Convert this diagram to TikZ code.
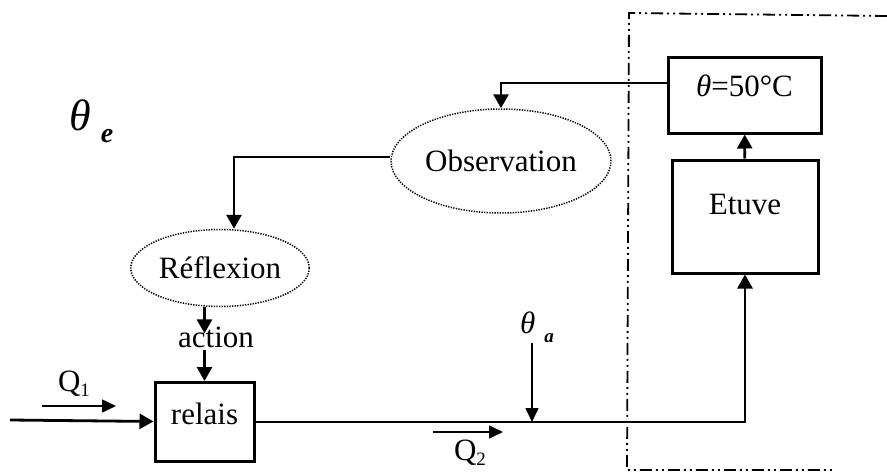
\documentclass[tikz,border=0pt]{standalone}
\usepackage{fontspec}
\setmainfont{Liberation Serif}
\usetikzlibrary{positioning,calc,arrows.meta,shapes.geometric}
\newcommand{\grand}{\fontsize{31}{35}\selectfont}
\newcommand{\indice}{\fontsize{19}{22}\selectfont}

\begin{document}
\begin{tikzpicture}[x=1pt, y=-1pt, >={Triangle[length=14pt, width=15pt]},
    every node/.style={inner sep=2pt, font=\grand},
    bloc/.style={draw, line width=3pt, text height=21pt},
    bulle/.style={ellipse, draw, line width=1.5pt, dash pattern=on 1.3pt off 1.3pt},
    fleche/.style={->, line width=2.8pt},
    fine/.style={->, line width=1.6pt, >={Triangle[length=14pt, width=13pt]}},
    cadre/.style={line width=1.8pt, dash pattern=on 12pt off 4pt on 2pt off 4pt on 2pt off 4pt}]
  \useasboundingbox (0,0) rectangle (887,474);

  % blocs et bulles
  \node[bloc, minimum width=153pt, minimum height=76pt, text depth=19pt] (consigne) at (744.5,95) {\textit{θ}=50°C};
  \node[bloc, minimum width=146pt, minimum height=113pt, text depth=25pt] (etuve) at (745,216.5) {Etuve};
  \node[bulle, minimum width=193pt, minimum height=104pt] (obs) at (501,161) {Observation};
  \node[bulle, minimum width=170pt, minimum height=77pt] (refl) at (220,268) {Réflexion};
  \node (action) at (216,337) {action};
  \node[bloc, minimum width=99pt, minimum height=79pt, text depth=17pt] (relais) at (204.5,422) {relais};

  % grandeurs
  \node[anchor=base west] (te) at (67,130) {\fontsize{44}{48}\selectfont\textit{θ}\hspace{10pt}\raisebox{-12pt}{\fontsize{28}{30}\selectfont\bfseries\itshape e}};
  \node[anchor=base west] (ta) at (518,333) {\textit{θ}\hspace{9pt}\raisebox{-9pt}{\indice\bfseries\itshape a}};
  \node (q1) at (74,384) {Q\raisebox{-5pt}{\indice 1}};
  \node (q2) at (470,453) {Q\raisebox{-5pt}{\indice 2}};

  \coordinate (entree) at (10,420);
  \coordinate (q1a) at (42,406);
  \coordinate (q1b) at (116,406);
  \coordinate (q2a) at (433,432);
  \coordinate (q2b) at (503,432);
  \coordinate (tha) at (532,343);

  % liaisons
  \draw[fleche] (entree) -- (relais);
  \draw[fleche] (relais) -- (relais -| etuve) -- (etuve);
  \draw[fleche] (etuve) -- (consigne);
  \draw[fleche] ([yshift=12pt]consigne.west) -| (obs);
  \draw[fleche] ([yshift=4pt]obs.west) -| ([xshift=14pt]refl.north);
  \draw[fleche] (refl.south -| relais.north) -- ([yshift=-9pt]action.north -| relais.north);
  \draw[fleche] (action.south -| relais.north) -- (relais.north);

  \draw[fine] (q1a) -- (q1b);
  \draw[fine] (q2a) -- (q2b);
  \draw[fine] (tha) -- (tha |- relais);

  % frontiere du systeme
  \draw[cadre] (887,16) -- (629,13) -- (627,470) -- (832,470);
\end{tikzpicture}
\end{document}
